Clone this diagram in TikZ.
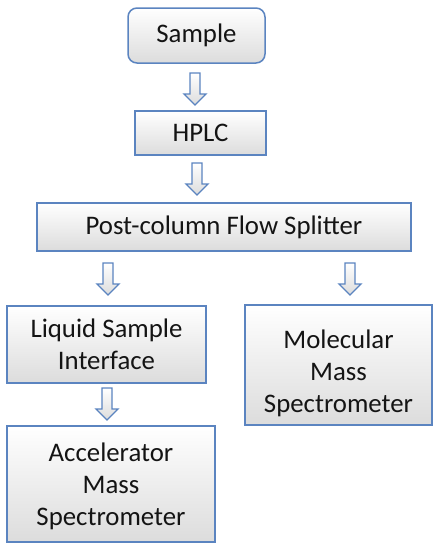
\documentclass[tikz,border=0pt]{standalone}
\usepackage{fontspec}
\setmainfont{Carlito}
\definecolor{bordblue}{HTML}{5B84C0}
\definecolor{txt}{HTML}{141414}
\definecolor{boxbot}{HTML}{DCDCDC}
\newcommand{\shiftedtext}[2]{\raisebox{#1}[\height][\depth]{\begin{tabular}{@{}c@{}}#2\end{tabular}}}
\tikzset{
  box/.style={draw=bordblue, line width=1.5pt, top color=white, bottom color=boxbot,
    align=center, text=txt, font=\fontsize{26.8}{32}\selectfont, inner sep=0pt},
  pics/barrow/.style={code={
    \draw[bordblue, line width=1.3pt, line join=miter, top color=white, bottom color=boxbot]
      (-5,0) -- (5,0) -- (5,21) -- (11,21) -- (0,32) -- (-11,21) -- (-5,21) -- cycle;
  }}
}
\begin{document}
\begin{tikzpicture}[x=1pt,y=-1pt]
\useasboundingbox (0,0) rectangle (439,550);
\node[box, rounded corners=9pt, minimum width=137pt, minimum height=55pt] (sample) at (196.5,35.5) {Sample};
\node[box, minimum width=131pt, minimum height=44pt] (hplc) at (200.5,133) {HPLC};
\node[box, minimum width=374pt, minimum height=48pt] (split) at (224,227) {Post-column Flow Splitter};
\node[box, minimum width=199pt, minimum height=77pt] (lsi) at (106.5,344.5) {Liquid Sample\\Interface};
\node[box, minimum width=187pt, minimum height=120pt] (mms) at (338.5,365) {\shiftedtext{-9pt}{Molecular\\Mass\\Spectrometer}};
\node[box, minimum width=208pt, minimum height=116pt] (ams) at (111,484) {\shiftedtext{-3pt}{Accelerator\\Mass\\Spectrometer}};
\pic at (195,73) {barrow};
\pic at (197,163) {barrow};
\pic at (108,263) {barrow};
\pic at (350,263) {barrow};
\pic at (107,388) {barrow};
\end{tikzpicture}
\end{document}
